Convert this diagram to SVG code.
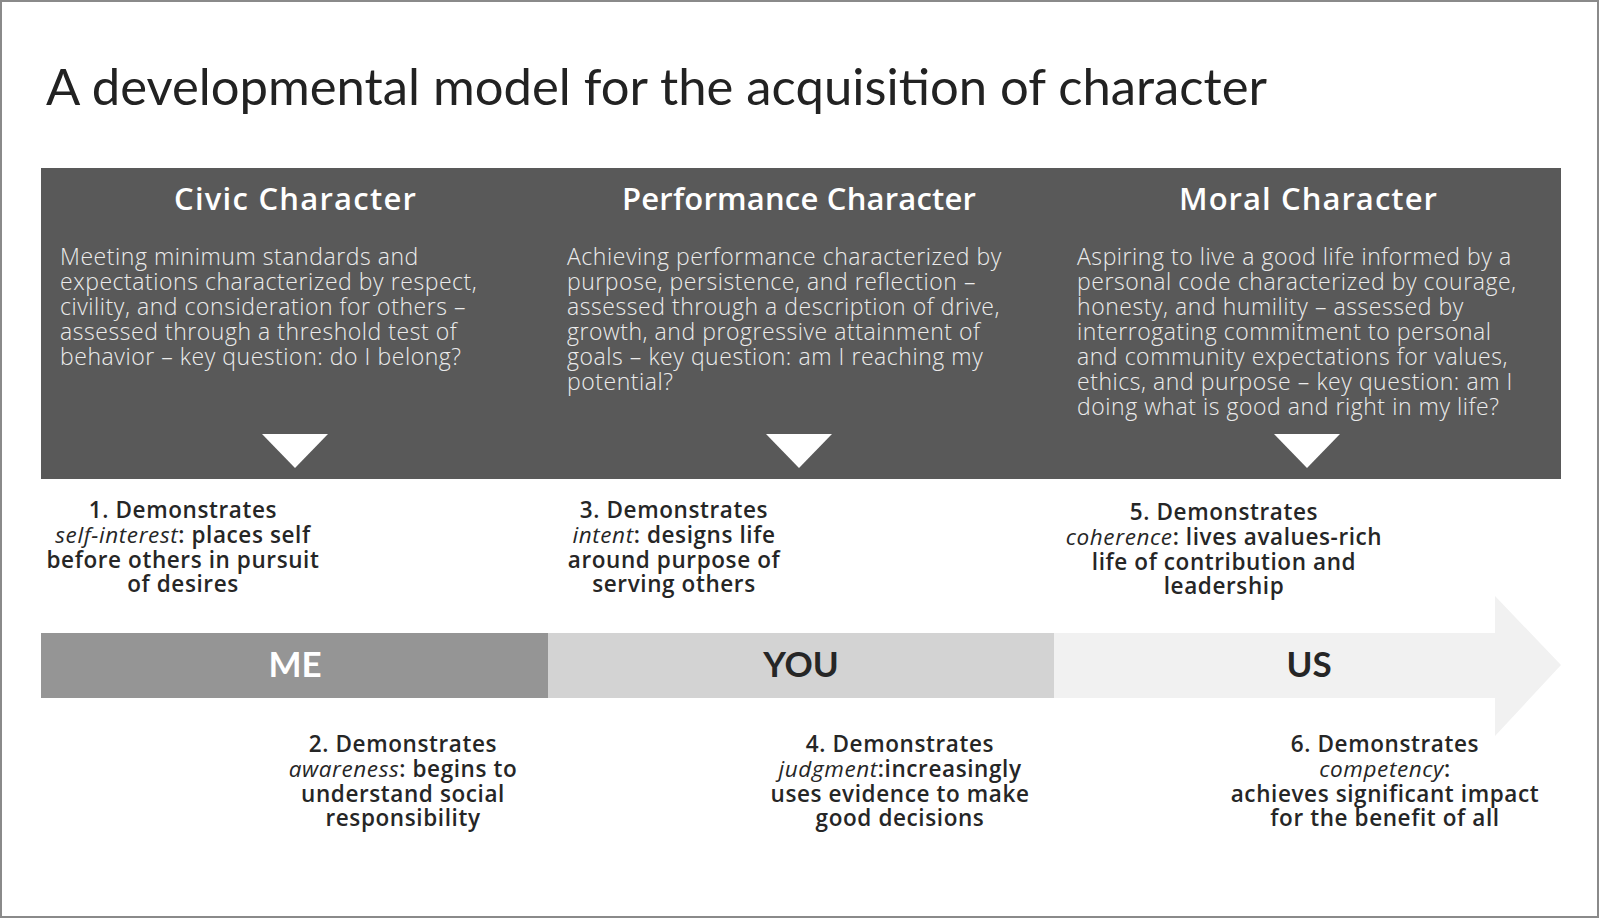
<svg xmlns="http://www.w3.org/2000/svg" width="1600" height="919" viewBox="0 0 1600 919">
<style>
.title{font-family:Lato,"Liberation Sans",sans-serif;font-size:50px;fill:#222}
.head{font-family:"Open Sans","Liberation Sans",sans-serif;font-size:31px;font-weight:600;fill:#fff;text-anchor:middle}
.body{font-family:"Open Sans","Liberation Sans",sans-serif;font-size:23px;font-weight:300;fill:#ececec;letter-spacing:0.55px}
.item{font-family:"Open Sans","Liberation Sans",sans-serif;font-size:22.5px;font-weight:600;fill:#262626;text-anchor:middle;letter-spacing:0.6px}
.item .i{font-style:italic;font-weight:400}
.bar{font-family:Lato,"Liberation Sans",sans-serif;font-size:35px;font-weight:bold;text-anchor:middle}
.tri{fill:#fff}
</style>
<rect x="1" y="1" width="1597" height="916" fill="#fff" stroke="#8a8a8a" stroke-width="2"/>
<text class="title" x="46" y="105" textLength="1221" lengthAdjust="spacingAndGlyphs">A developmental model for the acquisition of character</text>

<g id="panel">
<rect x="41" y="168" width="1520" height="311" fill="#595959"/>
</g>

<g id="civic">
<text class="head" x="295" y="210" textLength="242">Civic Character</text>
<text class="body" x="60" y="265">Meeting minimum standards and</text>
<text class="body" x="60" y="290">expectations characterized by respect,</text>
<text class="body" x="60" y="315">civility, and consideration for others –</text>
<text class="body" x="60" y="340">assessed through a threshold test of</text>
<text class="body" x="60" y="365">behavior – key question: do I belong?</text>
</g>

<g id="performance">
<text class="head" x="799" y="210" textLength="354">Performance Character</text>
<text class="body" x="567" y="265">Achieving performance characterized by</text>
<text class="body" x="567" y="290">purpose, persistence, and reflection –</text>
<text class="body" x="567" y="315">assessed through a description of drive,</text>
<text class="body" x="567" y="340">growth, and progressive attainment of</text>
<text class="body" x="567" y="365">goals – key question: am I reaching my</text>
<text class="body" x="567" y="390">potential?</text>
</g>

<g id="moral">
<text class="head" x="1308" y="210" textLength="258">Moral Character</text>
<text class="body" x="1077" y="265">Aspiring to live a good life informed by a</text>
<text class="body" x="1077" y="290">personal code characterized by courage,</text>
<text class="body" x="1077" y="315">honesty, and humility – assessed by</text>
<text class="body" x="1077" y="340">interrogating commitment to personal</text>
<text class="body" x="1077" y="365">and community expectations for values,</text>
<text class="body" x="1077" y="390">ethics, and purpose – key question: am I</text>
<text class="body" x="1077" y="415">doing what is good and right in my life?</text>
</g>

<g id="connectors">
<polygon class="tri" points="262,434 328,434 295,468"/>
<polygon class="tri" points="766,434 832,434 799,468"/>
<polygon class="tri" points="1274,434 1340,434 1307,468"/>
</g>

<g id="timeline">
<polygon points="1054,633 1495,633 1495,596 1561,665 1495,736 1495,698 1054,698" fill="#f1f1f1"/>
<rect x="41" y="633" width="507" height="65" fill="#959595"/>
<rect x="548" y="633" width="506" height="65" fill="#d3d3d3"/>
<text class="bar" x="295" y="677" fill="#fff">ME</text>
<text class="bar" x="801" y="677" fill="#262626">YOU</text>
<text class="bar" x="1309" y="677" fill="#262626">US</text>
</g>

<g id="item1">
<text class="item" x="183" y="518">1. Demonstrates</text>
<text class="item" x="183" y="543"><tspan class="i">self-interest</tspan>: places self</text>
<text class="item" x="183" y="568">before others in pursuit</text>
<text class="item" x="183" y="592">of desires</text>
</g>

<g id="item3">
<text class="item" x="674" y="518">3. Demonstrates</text>
<text class="item" x="674" y="543"><tspan class="i">intent</tspan>: designs life</text>
<text class="item" x="674" y="568">around purpose of</text>
<text class="item" x="674" y="592">serving others</text>
</g>

<g id="item5">
<text class="item" x="1224" y="520">5. Demonstrates</text>
<text class="item" x="1224" y="545"><tspan class="i">coherence</tspan>: lives avalues-rich</text>
<text class="item" x="1224" y="570">life of contribution and</text>
<text class="item" x="1224" y="594">leadership</text>
</g>

<g id="item2">
<text class="item" x="403" y="752">2. Demonstrates</text>
<text class="item" x="403" y="777"><tspan class="i">awareness</tspan>: begins to</text>
<text class="item" x="403" y="802">understand social</text>
<text class="item" x="403" y="826">responsibility</text>
</g>

<g id="item4">
<text class="item" x="900" y="752">4. Demonstrates</text>
<text class="item" x="900" y="777"><tspan class="i">judgment</tspan>:increasingly</text>
<text class="item" x="900" y="802">uses evidence to make</text>
<text class="item" x="900" y="826">good decisions</text>
</g>

<g id="item6">
<text class="item" x="1385" y="752">6. Demonstrates</text>
<text class="item" x="1385" y="777"><tspan class="i">competency</tspan>:</text>
<text class="item" x="1385" y="802">achieves significant impact</text>
<text class="item" x="1385" y="826">for the benefit of all</text>
</g>
</svg>
